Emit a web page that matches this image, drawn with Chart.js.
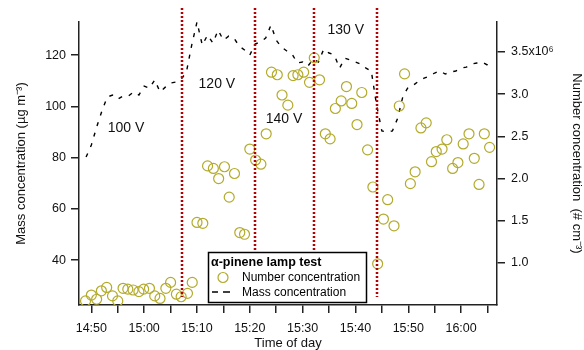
<!DOCTYPE html>
<html>
<head>
<meta charset="utf-8">
<script src="https://cdn.jsdelivr.net/npm/chart.js@4.4.0/dist/chart.umd.min.js"></script>
<style>
  html, body { margin: 0; padding: 0; background: #fff; }
</style>
</head>
<body>
<canvas id="myChart" width="584" height="350"></canvas>
<script>
// time = minutes after 14:00
const massTime = [49, 50, 51, 52, 53, 54, 55, 56, 57, 58, 59, 60, 61, 62, 63, 64, 65, 66, 67, 68,
  69, 70, 71, 72, 73, 74, 75, 76, 77, 78, 79, 80, 81, 82, 83, 84, 85, 86, 87, 88,
  89, 90, 91, 92, 93, 94, 95, 96, 97, 98, 99, 100, 101, 102, 103, 104, 105, 106, 107, 108,
  109, 110, 111, 112, 113, 114, 115, 116, 117, 118, 119, 120, 121, 122, 123, 124, 125, 125.5];
const massConc = [80.2, 84.9, 91.9, 98.2, 103.6, 104.4, 102.8, 104.0, 104.0, 105.6, 104.4, 107.9, 107.1, 110.3, 105.6, 107.5, 109.1, 109.5, 110.6, 113.4,
  123.9, 132.9, 123.9, 127.8, 124.7, 129.7, 125.8, 127.4, 126.6, 123.5, 122.0, 120.0, 124.3, 125.1, 126.6, 131.7, 125.8, 123.1, 121.6, 120.4,
  116.9, 117.3, 115.7, 118.4, 117.3, 122.3, 120.8, 120.0, 114.9, 118.8, 118.1, 117.3, 116.5, 114.9, 113.8, 100.5, 90.4, 90.0, 90.4, 95.4,
  104.0, 107.5, 108.3, 109.9, 111.0, 111.8, 113.0, 113.8, 112.6, 113.4, 113.8, 114.9, 115.3, 116.5, 116.9, 117.3, 116.1, 114.1];

const numTime = [48.9, 50.0, 51.0, 51.9, 52.9, 54.0, 55.0, 56.0, 56.9, 57.9, 59.0, 59.9, 61.0, 62.0, 63.0, 64.1, 65.0, 66.1, 67.0, 68.2,
  69.1, 70.0, 71.1, 72.0, 73.1, 74.1, 75.2, 76.1, 77.1, 78.1, 79.0, 80.0, 81.1, 82.1, 83.1, 84.1, 85.2, 86.1, 87.2, 88.2,
  89.1, 90.2, 91.3, 92.2, 93.2, 94.3, 95.2, 96.2, 97.3, 98.3, 99.3, 100.3, 101.2, 102.3, 103.3, 104.2, 105.3, 106.1, 107.3, 108.3,
  109.3, 110.4, 111.3, 112.4, 113.4, 114.4, 115.3, 116.4, 117.3, 118.4, 119.4, 120.4, 121.5, 122.5, 123.4, 124.4, 125.4];
// x10^6 cm^-3
const numConc = [0.55, 0.62, 0.57, 0.67, 0.71, 0.61, 0.55, 0.70, 0.69, 0.68, 0.66, 0.69, 0.70, 0.61, 0.58, 0.70, 0.77, 0.63, 0.60, 0.64,
  0.77, 1.48, 1.47, 2.15, 2.12, 2.00, 2.14, 1.78, 2.06, 1.36, 1.34, 2.35, 2.22, 2.17, 2.53, 3.26, 3.23, 2.99, 2.87, 3.22,
  3.23, 3.26, 3.14, 3.43, 3.17, 2.53, 2.47, 2.83, 2.92, 3.09, 2.89, 2.64, 3.02, 2.34, 1.90, 0.99, 1.52, 1.75, 1.44, 2.86,
  3.24, 1.94, 2.08, 2.60, 2.66, 2.20, 2.32, 2.35, 2.46, 2.12, 2.19, 2.41, 2.53, 2.24, 1.93, 2.53, 2.37];

// lamp voltage changes
const lampTimes = [67.2, 80.9, 92.2, 104.1];
const voltLabels = ['100 V', '120 V', '140 V', '130 V'];
const voltTime = [53.1, 70.3, 83.0, 94.7];
const voltMass = [91.5, 108.7, 95.0, 129.7];

const FONT = "'Liberation Sans', Arial, sans-serif";
const olive = '#b3ab2c';
const axisColor = '#222';

function hhmm(v) {
  const h = 14 + Math.floor(v / 60);
  const m = Math.round(v % 60);
  return h + ':' + (m < 10 ? '0' + m : m);
}

const extras = {
  id: 'extras',
  afterDatasetsDraw(chart) {
    const { ctx, chartArea, scales } = chart;
    const x = scales.x, y = scales.y;
    ctx.save();

    // dotted red lines at lamp changes
    ctx.strokeStyle = '#b30000';
    ctx.lineWidth = 2.5;
    ctx.setLineDash([2, 2]);
    lampTimes.forEach(t => {
      const px = Math.round(x.getPixelForValue(t));
      ctx.beginPath();
      ctx.moveTo(px, chartArea.top - 14);
      ctx.lineTo(px, chartArea.bottom - 8);
      ctx.stroke();
    });
    ctx.setLineDash([]);

    // voltage labels
    ctx.fillStyle = '#111';
    ctx.font = '14px ' + FONT;
    ctx.textAlign = 'left';
    ctx.textBaseline = 'middle';
    voltLabels.forEach((s, i) => {
      ctx.fillText(s, x.getPixelForValue(voltTime[i]), y.getPixelForValue(voltMass[i]));
    });

    // legend box
    const bx = 208, by = 252, bw = 158, bh = 50;
    ctx.fillStyle = '#fff';
    ctx.fillRect(bx, by, bw, bh);
    ctx.strokeStyle = '#000';
    ctx.lineWidth = 1.5;
    ctx.strokeRect(bx + 0.5, by + 0.5, bw, bh);

    ctx.fillStyle = '#000';
    ctx.font = 'bold 12.5px ' + FONT;
    ctx.fillText('\u03b1-pinene lamp test', bx + 3, by + 11);

    ctx.font = '12px ' + FONT;
    ctx.strokeStyle = olive;
    ctx.lineWidth = 1.2;
    ctx.beginPath();
    ctx.arc(bx + 15, by + 25.5, 5, 0, Math.PI * 2);
    ctx.stroke();
    ctx.fillText('Number concentration', bx + 34, by + 26);

    ctx.strokeStyle = '#000';
    ctx.lineWidth = 1.4;
    ctx.beginPath();
    ctx.moveTo(bx + 4, by + 40);
    ctx.lineTo(bx + 10, by + 40);
    ctx.moveTo(bx + 15, by + 40);
    ctx.lineTo(bx + 22, by + 40);
    ctx.stroke();
    ctx.fillText('Mass concentration', bx + 34, by + 40.5);

    ctx.restore();
  }
};

const ctx = document.getElementById('myChart');

new Chart(ctx, {
  type: 'line',
  data: {
    datasets: [{
      label: 'Number concentration',
      data: numTime.map((t, i) => ({ x: t, y: numConc[i] })),
      yAxisID: 'y2',
      showLine: false,
      pointRadius: 5,
      pointBorderWidth: 1.2,
      borderColor: olive,
      backgroundColor: 'rgba(0,0,0,0)',
      pointBackgroundColor: 'rgba(0,0,0,0)'
    }, {
      label: 'Mass concentration',
      data: massTime.map((t, i) => ({ x: t, y: massConc[i] })),
      yAxisID: 'y',
      borderColor: '#000',
      borderWidth: 1.4,
      borderDash: [4, 7],
      pointRadius: 0,
      tension: 0,
      fill: false
    }]
  },
  options: {
    responsive: false,
    animation: false,
    events: [],
    layout: { padding: { top: 22, left: 0, right: 0, bottom: 0 } },
    plugins: { legend: { display: false }, tooltip: { enabled: false } },
    scales: {
      x: {
        type: 'linear',
        min: 47.66,
        max: 126.8,
        afterFit(s) { s.height = 45; },
        border: { color: axisColor, width: 1.5 },
        grid: { drawOnChartArea: false, tickLength: 8, color: axisColor, lineWidth: 1.5 },
        ticks: {
          stepSize: 5,
          includeBounds: false,
          autoSkip: false,
          maxRotation: 0,
          padding: 8,
          color: '#111',
          font: { family: FONT, size: 12.5 },
          callback: v => (v % 10 === 0 ? hhmm(v) : '')
        },
        title: {
          display: true,
          text: 'Time of day',
          color: '#111',
          font: { family: FONT, size: 13, lineHeight: 1 },
          padding: 0
        }
      },
      y: {
        position: 'left',
        min: 22.5,
        max: 132.9,
        afterFit(s) { s.width = 79; },
        border: { color: axisColor, width: 1.5 },
        grid: { drawOnChartArea: false, tickLength: 8, color: axisColor, lineWidth: 1.5 },
        ticks: {
          stepSize: 20,
          includeBounds: false,
          padding: 5,
          color: '#111',
          font: { family: FONT, size: 12.5 }
        },
        title: {
          display: true,
          text: 'Mass concentration (\u00b5g m\u207b\u00b3)',
          color: '#111',
          font: { family: FONT, size: 13 },
          padding: { top: 14, bottom: 0 }
        }
      },
      y2: {
        position: 'right',
        min: 0.502,
        max: 3.855,
        afterFit(s) { s.width = 87; },
        border: { color: axisColor, width: 1.5 },
        grid: { drawOnChartArea: false, tickLength: 8, color: axisColor, lineWidth: 1.5 },
        ticks: {
          stepSize: 0.5,
          includeBounds: false,
          padding: 6,
          color: '#111',
          font: { family: FONT, size: 12.5 },
          callback: v => (Math.abs(v - 3.5) < 1e-6 ? '3.5x10\u2076' : v.toFixed(1))
        },
        title: {
          display: true,
          text: 'Number concentration  (# cm\u207b\u00b3)',
          color: '#111',
          font: { family: FONT, size: 13 },
          padding: { top: 0, bottom: 0 }
        }
      }
    }
  },
  plugins: [extras]
});
</script>
</body>
</html>
